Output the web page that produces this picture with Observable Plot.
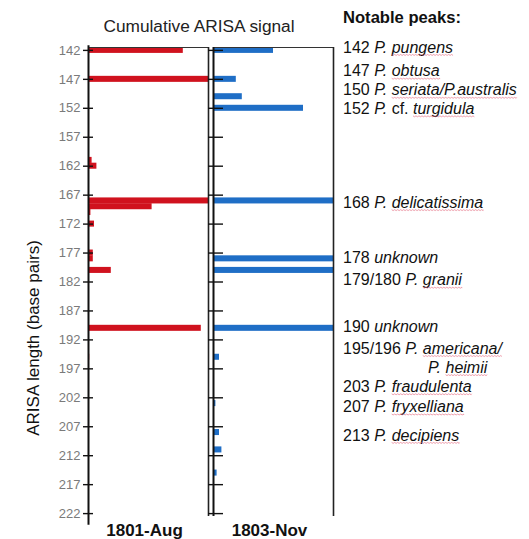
<!DOCTYPE html>
<html>
<head>
<meta charset="utf-8">
<script src="https://cdn.jsdelivr.net/npm/d3@7"></script>
<script src="https://cdn.jsdelivr.net/npm/@observablehq/plot@0.6"></script>
<style>
  body { margin: 0; background: #fff; }
  #chart svg { display: block; }
</style>
</head>
<body>
<div id="chart"></div>
<script>
// ---- data ----
const samples = ["1801-Aug", "1803-Nov"];
const augBp     = [142, 147, 161, 162, 168, 169, 170, 172, 177, 178, 180, 190, 195];
const augSignal = [0.79, 1.0, 0.03, 0.07, 1.0, 0.53, 0.02, 0.05, 0.04, 0.04, 0.19, 0.94, 0.01];
const novBp     = [142, 147, 150, 152, 168, 178, 180, 190, 195, 203, 208, 211, 215];
const novSignal = [0.50, 0.19, 0.24, 0.75, 1.0, 1.0, 1.0, 1.0, 0.05, 0.02, 0.05, 0.07, 0.03];
const yTicks = [142, 147, 152, 157, 162, 167, 172, 177, 182, 187, 192, 197, 202, 207, 212, 217, 222];
const title = "Cumulative ARISA signal";
const yLabel = "ARISA length (base pairs)";
const notesTitle = "Notable peaks:";
// *...* = italic, ~...~ = spell-check underline
const notes = [
  "142 *P. ~pungens~*",
  "147 *P. ~obtusa~*",
  "150 *P. ~seriata/P.australis~*",
  "152 *P.* cf. *~turgidula~*",
  "168 *P. ~delicatissima~*",
  "178 *unknown*",
  "179/180 *P. ~granii~*",
  "190 *unknown*",
  "195/196 *P. ~americana/~*",
  "*P. ~heimii~*",
  "203 *P. ~fraudulenta~*",
  "207 *P. ~fryxelliana~*",
  "213 *P. ~decipiens~*"
];
// layout: row anchor of each note on the bp axis, and indent flag
const noteRows   = [141.5, 145.6, 148.9, 152.1, 168.3, 177.9, 181.7, 189.8, 193.5, 196.8, 200.1, 203.6, 208.5];
const noteIndent = [0, 0, 0, 0, 0, 0, 0, 0, 0, 1, 0, 0, 0];

const colors = ["#d0121e", "#1f6ec6"];

const table = [
  ...augBp.map((bp, i) => ({sample: samples[0], bp, signal: augSignal[i]})),
  ...novBp.map((bp, i) => ({sample: samples[1], bp, signal: novSignal[i]}))
];

const font = "'Liberation Sans', Arial, Helvetica, sans-serif";

const plot = Plot.plot({
  width: 529,
  height: 539,
  marginLeft: 88,
  marginRight: 196,
  marginTop: 47,
  marginBottom: 23,
  style: {fontFamily: font, background: "#fff", color: "#111"},
  x: {domain: [0, 1], axis: null},
  y: {domain: [141.5, 222.5], reverse: true},
  fx: {domain: samples, paddingInner: 0.04, paddingOuter: 0},
  color: {domain: samples, range: colors},
  marks: [
    Plot.rectX(table, {
      fx: "sample",
      x1: 0,
      x2: "signal",
      y1: d => d.bp - 0.52,
      y2: d => d.bp + 0.52,
      fill: "sample",
      clip: true
    }),
    // panel borders
    Plot.ruleY(samples, {fx: d => d, y: 141.5, stroke: "#333", strokeWidth: 1.2}),
    Plot.ruleX(samples, {fx: d => d, x: 1, stroke: "#222", strokeWidth: 1.6}),
    Plot.ruleX(samples.slice(1), {fx: d => d, x: 0, stroke: "#111", strokeWidth: 2}),
    Plot.ruleX(samples.slice(0, 1), {fx: d => d, x: 0, y1: 141.2, y2: 224, stroke: "#111", strokeWidth: 2}),
    // y axes
    Plot.axisY({
      ticks: yTicks, anchor: "left", facetAnchor: "left",
      tickSize: 10, dx: 5, tickPadding: 3,
      fontSize: 13, fill: "#7a7a7a", stroke: "#111", strokeWidth: 1.4,
      label: null
    }),
    Plot.axisY({
      ticks: yTicks, anchor: "left", facetAnchor: "right",
      tickSize: 15, dx: 10, tickFormat: () => "",
      stroke: "#111", strokeWidth: 1.4,
      label: null
    }),
    Plot.axisFx({
      anchor: "bottom", tickSize: 0, tickPadding: 7, dx: -4,
      fontSize: 17, fontWeight: "bold", fill: "#111", label: null
    })
  ]
});

document.getElementById("chart").appendChild(plot);

const svg = d3.select(plot);
const y = plot.scale("y");

// title
svg.append("text")
  .attr("x", 199).attr("y", 26).attr("dy", "0.35em")
  .attr("text-anchor", "middle")
  .attr("font-size", 17.3).attr("fill", "#222")
  .text(title);

// y label
svg.append("text")
  .attr("transform", "translate(33,338) rotate(-90)")
  .attr("dy", "0.35em")
  .attr("text-anchor", "middle")
  .attr("font-size", 17).attr("fill", "#111")
  .text(yLabel);

// notes
const noteX = 343;
const g = svg.append("g")
  .attr("font-size", 16).attr("fill", "#111")
  .attr("text-anchor", "start")
  .style("white-space", "pre");
g.append("text")
  .attr("x", noteX).attr("y", 17).attr("dy", "0.35em")
  .attr("font-weight", "bold").attr("font-size", 16.6)
  .text(notesTitle);

const underlines = [];
notes.forEach((str, i) => {
  const yy = y.apply(noteRows[i]);
  const t = g.append("text")
    .attr("x", noteIndent[i] ? 428 : noteX)
    .attr("y", yy).attr("dy", "0.35em");
  let italic = false, under = false;
  for (const p of str.split(/([*~])/)) {
    if (p === "*") { italic = !italic; continue; }
    if (p === "~") { under = !under; continue; }
    if (!p) continue;
    const ts = t.append("tspan").attr("font-style", italic ? "italic" : "normal").text(p);
    if (under) underlines.push({node: ts.node(), y: yy});
  }
});

// spell-check style wavy underlines
for (const u of underlines) {
  const n = u.node;
  const x0 = n.getStartPositionOfChar(0).x;
  const len = n.getComputedTextLength();
  const yb = u.y + 7.5;
  let dstr = `M${x0},${yb}`;
  for (let x = x0, k = 0; x < x0 + len; x += 1.5, k++) {
    dstr += `L${Math.min(x + 1.5, x0 + len)},${yb + (k % 2 ? 0 : 0.9)}`;
  }
  g.append("path").attr("d", dstr).attr("fill", "none")
    .attr("stroke", "#e46a80").attr("stroke-width", 0.8).attr("opacity", 0.8);
}
</script>
</body>
</html>
